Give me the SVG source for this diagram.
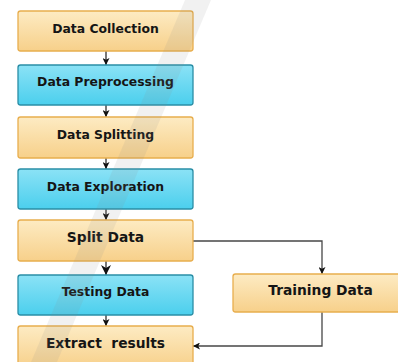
<svg xmlns="http://www.w3.org/2000/svg" width="398" height="362" viewBox="0 0 398 362">
<style>
.bg{fill:#ffffff}
.o{fill:url(#go);stroke:#e8ae4e;stroke-width:1.3}
.b{fill:url(#gb);stroke:#2a8ea6;stroke-width:1.3}
.t{font-family:"DejaVu Sans",Verdana,sans-serif;font-weight:bold;font-size:12.4px;fill:#151515;text-anchor:middle}
.tl{font-size:13.8px;white-space:pre}
.v{stroke:#1e1e1e;stroke-width:1.2;fill:none}
.c{stroke:#474747;stroke-width:1.3;fill:none}
</style>
<defs>
<linearGradient id="go" x1="0" y1="0" x2="0" y2="1">
<stop offset="0" stop-color="#fdebc3"/>
<stop offset="1" stop-color="#f7d08a"/>
</linearGradient>
<linearGradient id="gb" x1="0" y1="0" x2="0" y2="1">
<stop offset="0" stop-color="#8be2f6"/>
<stop offset="1" stop-color="#4bcfed"/>
</linearGradient>
<marker id="ah" viewBox="0 0 10 10" refX="10" refY="5" markerWidth="7" markerHeight="7" markerUnits="userSpaceOnUse" orient="auto">
<path d="M0,0 L10,5 L0,10 L2.5,5 z" fill="#111"/>
</marker>
<marker id="ahb" viewBox="0 0 10 10" refX="10" refY="5" markerWidth="10" markerHeight="11" markerUnits="userSpaceOnUse" orient="auto">
<path d="M0,0 L10,5 L0,10 L3,5 z" fill="#111"/>
</marker>
</defs>
<rect class="bg" x="0" y="0" width="398" height="362"/>
<g id="connectors">
<line class="v" x1="106" y1="51" x2="106" y2="65" marker-end="url(#ah)"/>
<line class="v" x1="106" y1="105" x2="106" y2="117" marker-end="url(#ah)"/>
<line class="v" x1="106" y1="158" x2="106" y2="169" marker-end="url(#ah)"/>
<line class="v" x1="106" y1="209" x2="106" y2="220" marker-end="url(#ah)"/>
<line class="v" x1="106" y1="261" x2="106" y2="275" marker-end="url(#ahb)"/>
<line class="v" x1="106" y1="315" x2="106" y2="326" marker-end="url(#ah)"/>
<polyline class="c" points="193,241 322,241 322,274" marker-end="url(#ah)"/>
<polyline class="c" points="322,312 322,346 193,346" marker-end="url(#ah)"/>
</g>
<g id="data-collection">
<rect class="o" x="18" y="11" width="175" height="40" rx="2.5"/>
<text class="t" x="105.5" y="33">Data Collection</text>
</g>
<g id="data-preprocessing">
<rect class="b" x="18" y="65" width="175" height="40" rx="2.5"/>
<text class="t" x="105.5" y="86">Data Preprocessing</text>
</g>
<g id="data-splitting">
<rect class="o" x="18" y="117" width="175" height="41" rx="2.5"/>
<text class="t" x="105.5" y="139">Data Splitting</text>
</g>
<g id="data-exploration">
<rect class="b" x="18" y="169" width="175" height="40" rx="2.5"/>
<text class="t" x="105.5" y="191">Data Exploration</text>
</g>
<g id="split-data">
<rect class="o" x="18" y="220" width="175" height="41" rx="2.5"/>
<text class="t tl" x="105.5" y="242">Split Data</text>
</g>
<g id="testing-data">
<rect class="b" x="18" y="275" width="175" height="40" rx="2.5"/>
<text class="t" x="105.5" y="296">Testing Data</text>
</g>
<g id="extract-results">
<rect class="o" x="18" y="326" width="175" height="42" rx="2.5"/>
<text class="t tl" x="105.5" y="348">Extract  results</text>
</g>
<g id="training-data">
<rect class="o" x="233" y="274" width="175" height="38" rx="2.5"/>
<text class="t tl" x="320.5" y="295">Training Data</text>
</g>
<polygon points="185,0 211,0 57,362 31,362" fill="#8a8a8a" opacity="0.12"/>
</svg>
